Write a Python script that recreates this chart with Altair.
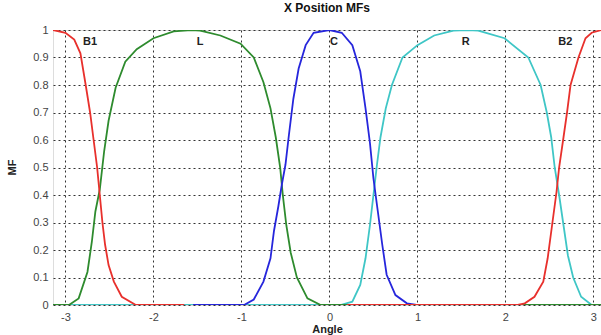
import altair as alt
import pandas as pd

# ---- data ----
b1_x = [-3.1416, -3.0, -2.90, -2.83, -2.77, -2.72, -2.68, -2.64, -2.61, -2.58, -2.55, -2.51, -2.45, -2.36, -2.2, -1.65]
b1_y = [1.0, 0.99, 0.965, 0.915, 0.80, 0.70, 0.60, 0.50, 0.40, 0.30, 0.22, 0.145, 0.085, 0.03, 0.0, 0.0]

l_x = [-3.1416, -2.96, -2.85, -2.75, -2.70, -2.66, -2.61, -2.56, -2.51, -2.43, -2.32, -2.19, -2.0, -1.77, -1.57,
       -1.47, -1.24, -1.01, -0.86, -0.75, -0.67, -0.61, -0.56, -0.53, -0.49, -0.44, -0.37, -0.25, -0.10, 3.1416]
l_y = [0.0, 0.0, 0.024, 0.12, 0.23, 0.34, 0.42, 0.56, 0.67, 0.79, 0.885, 0.93, 0.97, 0.995, 1.0,
       0.998, 0.98, 0.95, 0.90, 0.81, 0.715, 0.61, 0.50, 0.40, 0.29, 0.19, 0.10, 0.024, 0.0, 0.0]

c_x = [-1.55, -0.97, -0.86, -0.75, -0.67, -0.63, -0.58, -0.54, -0.50, -0.46, -0.41, -0.35, -0.27, -0.18, 0.0,
       0.14, 0.26, 0.35, 0.41, 0.46, 0.50, 0.55, 0.60, 0.65, 0.75, 0.88, 0.99, 1.55]
c_y = [0.0, 0.0, 0.02, 0.085, 0.17, 0.27, 0.36, 0.44, 0.51, 0.62, 0.75, 0.86, 0.945, 0.99, 1.0,
       0.99, 0.945, 0.85, 0.715, 0.59, 0.46, 0.34, 0.22, 0.11, 0.036, 0.006, 0.0, 0.0]

r_x = [-3.1416, 0.125, 0.26, 0.35, 0.41, 0.46, 0.50, 0.54, 0.58, 0.64, 0.71, 0.83, 1.0, 1.19, 1.41, 1.57,
       1.69, 1.99, 2.26, 2.40, 2.47, 2.52, 2.56, 2.61, 2.66, 2.71, 2.77, 2.86, 2.98, 3.1416]
r_y = [0.0, 0.0, 0.012, 0.073, 0.17, 0.29, 0.40, 0.51, 0.61, 0.715, 0.80, 0.90, 0.945, 0.98, 0.998, 1.0,
       0.998, 0.97, 0.90, 0.80, 0.70, 0.61, 0.50, 0.40, 0.29, 0.18, 0.10, 0.03, 0.0, 0.0]

b2_x = [0.2, 2.14, 2.22, 2.33, 2.43, 2.48, 2.53, 2.58, 2.61, 2.66, 2.70, 2.74, 2.83, 2.91, 2.98, 3.09, 3.1416]
b2_y = [0.0, 0.0, 0.006, 0.03, 0.085, 0.17, 0.29, 0.41, 0.50, 0.61, 0.70, 0.80, 0.90, 0.97, 0.99, 1.0, 1.0]

label_text = ["B1", "L", "C", "R", "B2"]
label_x = [-2.72, -1.47, 0.05, 1.55, 2.68]
label_y = [0.955, 0.955, 0.955, 0.955, 0.955]

x_ticks = [-3, -2, -1, 0, 1, 2, 3]
y_ticks = [0, 0.1, 0.2, 0.3, 0.4, 0.5, 0.6, 0.7, 0.8, 0.9, 1.0]

# draw order bottom -> top
curves = [
    ("R", r_x, r_y, "#3fc6c6"),
    ("L", l_x, l_y, "#2e8b2e"),
    ("B1", b1_x, b1_y, "#e8302c"),
    ("C", c_x, c_y, "#2626dc"),
    ("B2", b2_x, b2_y, "#e8302c"),
]

FONT = "Liberation Sans"
xscale = alt.Scale(domain=[-3.1416, 3.086], nice=False, zero=False)
yscale = alt.Scale(domain=[0, 1], nice=False)

xaxis = alt.Axis(values=x_ticks, title="Angle", labelExpr="'' + datum.value", grid=True,
                 gridColor="#333", gridDash=[2, 3], gridWidth=1, ticks=False,
                 domain=False, labelPadding=6, labelFontSize=11, labelColor="#444",
                 labelFont=FONT, titleFont=FONT, titleFontSize=11, titleFontWeight="bold",
                 titleColor="#222", titleY=27, titleBaseline="alphabetic")
yaxis = alt.Axis(values=y_ticks, title="MF", format=".1~f", grid=True,
                 gridColor="#333", gridDash=[2, 3], gridWidth=1, ticks=False,
                 domain=False, labelPadding=5, labelFontSize=11, labelColor="#444",
                 labelFont=FONT, titleFont=FONT, titleFontSize=11, titleFontWeight="bold",
                 titleColor="#222", titleX=-36, titleY=137, labelFlush=False)

enc_x = alt.X("x:Q", scale=xscale, axis=xaxis)
enc_y = alt.Y("y:Q", scale=yscale, axis=yaxis)

layers = []
for name, xs, ys, col in curves:
    df = pd.DataFrame({"x": xs, "y": ys, "i": range(len(xs))})
    layers.append(
        alt.Chart(df).mark_line(color=col, strokeWidth=1.8, clip=True)
        .encode(x=enc_x, y=enc_y, order="i:Q")
    )

lab_df = pd.DataFrame({"x": label_x, "y": label_y, "t": label_text})
labels = alt.Chart(lab_df).mark_text(font=FONT, fontSize=11, fontWeight="bold",
                                     color="#222", baseline="middle").encode(
    x=enc_x, y=enc_y, text="t:N",
)

chart = alt.layer(*layers, labels).properties(
    width=548, height=275,
    autosize=alt.AutoSizeParams(type="none"),
    padding={"left": 53, "top": 30, "right": 0, "bottom": 30},
    title=alt.TitleParams("X Position MFs", font=FONT, fontSize=12, fontWeight="bold",
                          color="#111", anchor="middle", offset=9),
).configure_view(stroke="#444", strokeWidth=1).configure(background="white")

chart.save("out.html", embed_options={"renderer": "svg", "actions": False})
